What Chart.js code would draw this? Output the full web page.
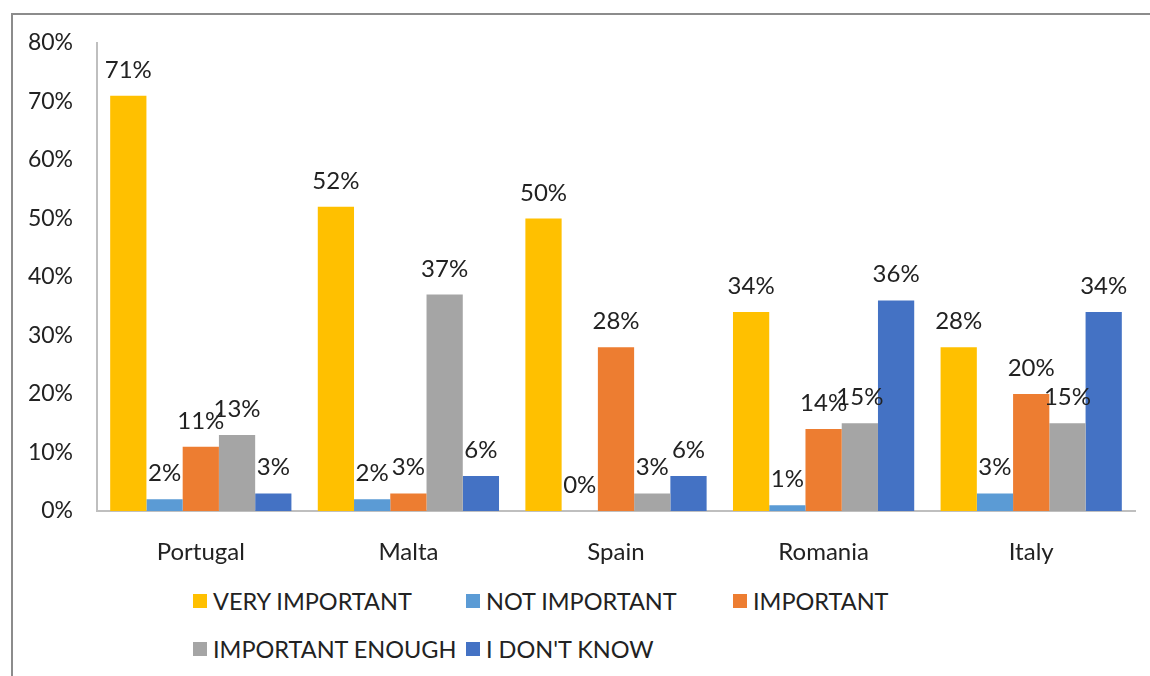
<!DOCTYPE html>
<html>
<head>
<meta charset="utf-8">
<script src="https://cdn.jsdelivr.net/npm/chart.js@4.4.1/dist/chart.umd.min.js"></script>
<style>
  html, body { margin: 0; background: #fff; overflow: hidden; font-family: Lato, "Liberation Sans", sans-serif; }
  #wrap { position: relative; width: 1150px; height: 676px; overflow: hidden; }
  .rule { position: absolute; background: #8c8c8c; }
  #ruleTop { left: 11px; top: 13px; width: 1139px; height: 2px; }
  #ruleLeft { left: 11px; top: 13px; width: 2px; height: 663px; }
  #myBarChart { position: absolute; left: 0; top: 0; }
  #legend { position: absolute; left: 193px; top: 577px; display: grid;
            grid-template-columns: 273px 267px 220px; grid-auto-rows: 48px; }
  .item { display: flex; align-items: center; font-size: 23.5px; color: #222; white-space: nowrap; }
  .box { width: 14px; height: 14px; margin-right: 6px; flex: none; }
</style>
</head>
<body>
<div id="wrap">
  <div class="rule" id="ruleTop"></div>
  <div class="rule" id="ruleLeft"></div>
  <canvas id="myBarChart" width="1150" height="570"></canvas>
  <div id="legend"></div>
</div>
<script>
var countries = ['Portugal', 'Malta', 'Spain', 'Romania', 'Italy'];
var seriesNames = ['VERY IMPORTANT', 'NOT IMPORTANT', 'IMPORTANT', 'IMPORTANT ENOUGH', "I DON'T KNOW"];
var seriesColors = ['#FFC000', '#5B9BD5', '#ED7D31', '#A5A5A5', '#4472C4'];

// percentages per answer, one value per country
var veryImportant = [71, 52, 50, 34, 28];
var notImportant = [2, 2, 0, 1, 3];
var important = [11, 3, 28, 14, 20];
var importantEnough = [13, 37, 3, 15, 15];
var dontKnow = [3, 6, 6, 36, 34];

var yTicks = [0, 10, 20, 30, 40, 50, 60, 70, 80];

var seriesValues = [veryImportant, notImportant, important, importantEnough, dontKnow];

var textFont = 'Lato, "Liberation Sans", sans-serif';

/* draws the value above each bar */
var valueLabels = {
  id: 'valueLabels',
  afterDatasetsDraw: function (chart) {
    var ctx = chart.ctx;
    ctx.save();
    ctx.font = '24px ' + textFont;
    ctx.fillStyle = '#222';
    ctx.textAlign = 'center';
    ctx.textBaseline = 'alphabetic';
    chart.data.datasets.forEach(function (ds, i) {
      chart.getDatasetMeta(i).data.forEach(function (bar, j) {
        ctx.fillText(ds.data[j] + '%', bar.x, bar.y - 18);
      });
    });
    ctx.restore();
  }
};

var ctx = document.getElementById('myBarChart').getContext('2d');

var myBarChart = new Chart(ctx, {
  type: 'bar',
  data: {
    labels: countries,
    datasets: seriesNames.map(function (name, i) {
      return {
        label: name,
        data: seriesValues[i],
        backgroundColor: seriesColors[i],
        barPercentage: 1,
        categoryPercentage: 0.873
      };
    })
  },
  options: {
    responsive: false,
    animation: false,
    devicePixelRatio: 1,
    layout: { padding: { top: 43, right: 15, left: 0, bottom: 0 } },
    plugins: {
      legend: { display: false },
      tooltip: { enabled: false }
    },
    scales: {
      x: {
        grid: { display: false },
        border: { display: true, color: '#bfbfbf', width: 2 },
        ticks: { color: '#222', font: { family: textFont, size: 24 }, padding: 19 },
        afterFit: function (scale) { scale.height = 59; }
      },
      y: {
        min: 0,
        max: 80,
        afterBuildTicks: function (scale) {
          scale.ticks = yTicks.map(function (v) { return { value: v }; });
        },
        grid: { display: false, drawTicks: false },
        border: { display: true, color: '#bfbfbf', width: 2 },
        ticks: {
          color: '#222',
          font: { family: textFont, size: 23 },
          padding: 24,
          callback: function (v) { return v + '%'; }
        },
        afterFit: function (scale) { scale.width = 97; }
      }
    }
  },
  plugins: [valueLabels]
});

// legend laid out as a three-column grid under the plot
var legend = document.getElementById('legend');
seriesNames.forEach(function (name, i) {
  var item = document.createElement('div');
  item.className = 'item';
  var box = document.createElement('span');
  box.className = 'box';
  box.style.background = seriesColors[i];
  item.appendChild(box);
  item.appendChild(document.createTextNode(name));
  legend.appendChild(item);
});
</script>
</body>
</html>
